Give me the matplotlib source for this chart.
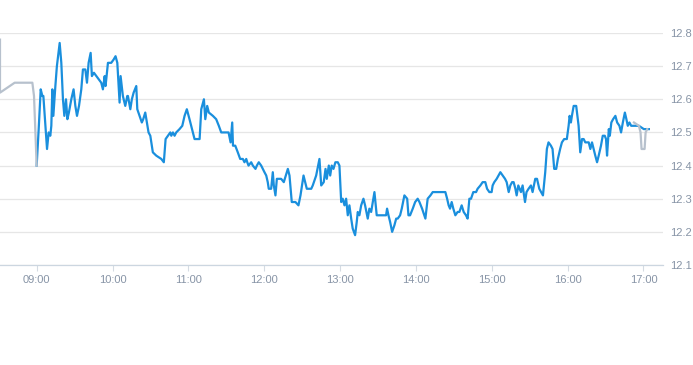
import matplotlib
matplotlib.use("Agg")
import matplotlib.pyplot as plt
from matplotlib.ticker import FixedLocator, FuncFormatter

# minutes relative to 09:00
main_minutes = [0, 1.6, 3.2, 4.5, 5.3, 6.9, 8.2, 9.5, 10.8, 11.6, 12.4, 13.2, 14.8, 16, 18.2, 19.5,
                20.8, 21.9, 23.2, 24.3, 25.5, 27.4, 29.2, 30.6, 31.9, 33.5, 35.3, 36.6, 38.5, 39.8,
                41.1, 42.7, 43.7, 45.3, 47.2, 49, 51.1, 52.4, 53.8, 54.5, 56.4, 59, 60.9, 62.4, 63.8,
                65.6, 66.4, 68.2, 70.1, 71.7, 72.2, 74.1, 75.3, 76.7, 78.8, 79.6, 81.4, 83.2, 84.3,
                85.9, 87.2, 88.5, 89.9, 91.9, 94.6, 98.6, 100.6, 102, 103.8, 105.7, 106.5, 107.8,
                109.1, 110.4, 113, 115.2, 117, 118.8, 120.9, 124.9, 128.9, 130.2, 132.3, 133.4,
                134.9, 136.2, 139.4, 142, 144.1, 146, 148.6, 151.8, 153.4, 154.7, 155.3, 157.1,
                159.1, 161, 163.1, 164.4, 165.8, 166.6, 167.6, 169.7, 171, 173.1, 174.2, 175.7,
                177.6, 178.9, 180.2, 181.6, 182.8, 183.6, 185.5, 186.8, 187.6, 188.9, 190, 193.4,
                195.5, 198.7, 200, 201.8, 204.7, 207.1, 208.7, 211.1, 213.7, 217.2, 218.4, 221.1,
                223.7, 225.1, 227.1, 228.5, 229.5, 231.1, 232.2, 233.4, 234.8, 236.3, 238.2, 239.5,
                240.9, 242.1, 243.5, 244.8, 246.1, 247.4, 248.8, 250, 251.9, 253.2, 254, 255.3,
                256.7, 258.5, 259.8, 261.9, 263.2, 264.6, 267.2, 269, 276.4, 277.2, 278.3, 279.6,
                281.2, 283, 284.4, 285.6, 287.5, 288.8, 290.9, 293.1, 294.1, 295.4, 297.5, 299.4,
                301.4, 302.8, 304.9, 307.5, 309.3, 311.5, 313.3, 323.3, 324.7, 325.9, 327, 328.3,
                329.6, 331.2, 333, 334.4, 336.2, 337.8, 339.6, 340.9, 342.3, 343.6, 345.4, 347.6,
                348.8, 351, 352.8, 354.9, 356.3, 358.1, 359.9, 360.7, 362, 363.9, 365.4, 366.8,
                368.6, 370.5, 371.8, 373.4, 374.7, 376.1, 377.3, 378.7, 379.7, 381, 383.1, 384.4,
                386.3, 387.5, 389.1, 391, 392.3, 394.4, 395.8, 397.6, 400.5, 402.3, 403.6, 404.9,
                406.8, 408.1, 409.4, 411, 412.3, 414.1, 415.5, 417.3, 419.4, 420.8, 421.6, 422.6,
                423.4, 424.8, 426.8, 428.7, 430, 431.4, 432.7, 434, 435.3, 436.7, 438, 439.3, 440.6,
                441.9, 443.3, 444.6, 446.4, 447.8, 449.4, 450.4, 451.2, 452.6, 453.4, 454.6, 456,
                457.8, 459.2, 461, 462.3, 463.7, 465.3, 466.5, 467.6, 468.9, 470.3, 473.7, 476.4,
                480.3, 484.3]
main_prices = [12.40, 12.51, 12.63, 12.61, 12.61, 12.52, 12.45, 12.50, 12.49, 12.52, 12.63, 12.55,
               12.64, 12.70, 12.77, 12.71, 12.60, 12.55, 12.60, 12.54, 12.56, 12.60, 12.63, 12.58,
               12.55, 12.58, 12.63, 12.69, 12.69, 12.65, 12.71, 12.74, 12.67, 12.68, 12.67, 12.66,
               12.65, 12.63, 12.67, 12.64, 12.71, 12.71, 12.72, 12.73, 12.71, 12.59, 12.67, 12.61,
               12.58, 12.61, 12.61, 12.57, 12.60, 12.62, 12.64, 12.57, 12.55, 12.53, 12.54, 12.56,
               12.53, 12.50, 12.49, 12.44, 12.43, 12.42, 12.41, 12.48, 12.49, 12.50, 12.49, 12.50,
               12.49, 12.50, 12.51, 12.52, 12.55, 12.57, 12.54, 12.48, 12.48, 12.57, 12.60, 12.54,
               12.58, 12.56, 12.55, 12.54, 12.52, 12.50, 12.50, 12.50, 12.47, 12.53, 12.46, 12.46,
               12.44, 12.42, 12.42, 12.41, 12.42, 12.41, 12.40, 12.41, 12.40, 12.39, 12.40, 12.41,
               12.40, 12.39, 12.38, 12.37, 12.35, 12.33, 12.33, 12.38, 12.34, 12.31, 12.36, 12.36,
               12.35, 12.39, 12.37, 12.29, 12.29, 12.28, 12.31, 12.37, 12.33, 12.33, 12.34, 12.37,
               12.42, 12.34, 12.35, 12.39, 12.36, 12.40, 12.37, 12.40, 12.39, 12.41, 12.41, 12.40,
               12.29, 12.30, 12.28, 12.30, 12.25, 12.28, 12.24, 12.21, 12.19, 12.23, 12.26, 12.25,
               12.28, 12.30, 12.28, 12.24, 12.27, 12.26, 12.32, 12.25, 12.25, 12.27, 12.25, 12.23,
               12.20, 12.22, 12.24, 12.24, 12.25, 12.27, 12.31, 12.30, 12.25, 12.25, 12.27, 12.29,
               12.30, 12.29, 12.27, 12.24, 12.30, 12.31, 12.32, 12.32, 12.30, 12.28, 12.27, 12.29,
               12.27, 12.25, 12.26, 12.26, 12.28, 12.26, 12.25, 12.24, 12.30, 12.30, 12.32, 12.32,
               12.33, 12.34, 12.35, 12.35, 12.33, 12.32, 12.32, 12.34, 12.35, 12.36, 12.37, 12.38,
               12.37, 12.36, 12.35, 12.32, 12.34, 12.35, 12.35, 12.33, 12.31, 12.34, 12.32, 12.34,
               12.29, 12.32, 12.33, 12.34, 12.32, 12.36, 12.36, 12.33, 12.31, 12.38, 12.45, 12.47,
               12.46, 12.45, 12.39, 12.39, 12.42, 12.45, 12.47, 12.48, 12.48, 12.52, 12.55, 12.53,
               12.55, 12.58, 12.58, 12.52, 12.44, 12.48, 12.48, 12.47, 12.47, 12.47, 12.45, 12.47,
               12.45, 12.43, 12.41, 12.43, 12.46, 12.49, 12.49, 12.48, 12.43, 12.51, 12.49, 12.53,
               12.54, 12.55, 12.53, 12.52, 12.50, 12.53, 12.56, 12.54, 12.52, 12.53, 12.52, 12.52,
               12.52, 12.51, 12.51]

pre_minutes = [-29, -29, -17.4, -3.4, -2.1, 0]
pre_prices = [12.78, 12.62, 12.65, 12.65, 12.61, 12.40]

post_minutes = [472.5, 476.4, 477.7, 478.5, 480.9, 481.7, 483]
post_prices = [12.53, 12.52, 12.50, 12.45, 12.45, 12.50, 12.51]

x_tick_minutes = [0, 60, 120, 180, 240, 300, 360, 420, 480]
x_tick_labels = ["09:00", "10:00", "11:00", "12:00", "13:00", "14:00", "15:00", "16:00", "17:00"]
y_ticks = [12.1, 12.2, 12.3, 12.4, 12.5, 12.6, 12.7, 12.8]

plt.rcParams['font.family'] = ['Liberation Sans', 'DejaVu Sans']

W, H = 693, 365
fig = plt.figure(figsize=(W / 100, H / 100), dpi=100)
ax = fig.add_axes([0, (H - 265) / H, 663.3 / W, (265 - 33) / H])

label_color = "#8794a6"
ax.plot(main_minutes, main_prices, color="#1a8fdd", lw=1.6, solid_joinstyle="round", zorder=3)
ax.plot(pre_minutes, pre_prices, color="#b7c1cd", lw=1.6, zorder=4)
ax.plot(post_minutes, post_prices, color="#b7c1cd", lw=1.6, zorder=4)

ax.set_xlim(-29.0, 495.7)
ax.set_ylim(12.1, 12.8)

ax.yaxis.set_major_locator(FixedLocator(y_ticks))
ax.yaxis.set_major_formatter(FuncFormatter(lambda v, p: f"{v:.1f}"))
ax.yaxis.tick_right()
ax.tick_params(axis="y", length=0, pad=5.2, labelsize=8, labelcolor=label_color)

ax.set_xticks(x_tick_minutes)
ax.set_xticklabels(x_tick_labels)
ax.tick_params(axis="x", length=4, width=0.8, color="#d5dbe3", pad=3, labelsize=8,
               labelcolor=label_color)

ax.grid(axis="y", color="#e6e6e6", lw=0.9, zorder=0)
ax.set_axisbelow(True)
for s in ["top", "left", "right"]:
    ax.spines[s].set_visible(False)
ax.spines["bottom"].set_color("#ccd6e0")
ax.spines["bottom"].set_linewidth(0.9)

fig.savefig("out.png", dpi=100)
